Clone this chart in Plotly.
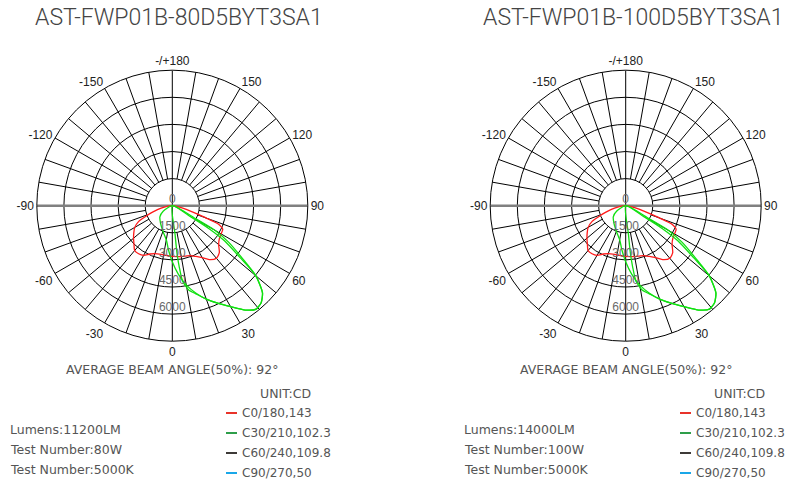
import plotly.graph_objects as go

# ---------------- data ----------------
TITLES = ["AST-FWP01B-80D5BYT3SA1", "AST-FWP01B-100D5BYT3SA1"]
LUMENS = ["Lumens:11200LM", "Lumens:14000LM"]
POWER = ["Test Number:80W", "Test Number:100W"]
CCT = ["Test Number:5000K", "Test Number:5000K"]
BEAM_TEXT = "AVERAGE BEAM ANGLE(50%): 92°"
UNIT_TEXT = "UNIT:CD"
LEGEND_LABELS = ["C0/180,143", "C30/210,102.3", "C60/240,109.8", "C90/270,50"]
LEGEND_COLORS = ["#e8332a", "#2e9e4a", "#3d3a38", "#1aa7e8"]

ANG_TICKS = [0, 30, 60, 90, 120, 150, 180, 210, 240, 270, 300, 330]
ANG_LABELS = ["0", "30", "60", "90", "120", "150", "-/+180", "-150", "-120", "-90", "-60", "-30"]
RAD_TICKS = [0, 1500, 3000, 4500, 6000]
RAD_LABELS = ["0", "1500", "3000", "4500", "6000"]
R_MAX = 7500

# C0/180 plane (red)
red_theta = [-90, -85, -80, -75, -72, -68, -65, -60, -55, -50, -45, -40, -35, -30, -25, -20,
             -15, -10, -5, 0, 5, 10, 15, 20, 25, 30, 35, 40, 45, 50, 55, 60, 65, 68, 70, 72,
             75, 80, 85, 90]
red_r = [0, 150, 450, 850, 1150, 1600, 2050, 2400, 2600, 2800, 3000, 3240, 3250, 3170, 2950,
         2820, 2770, 2760, 2780, 2810, 2830, 2860, 2890, 2940, 3100, 3320, 3650, 3800, 3680,
         3350, 3180, 3120, 3080, 2800, 2000, 1300, 800, 350, 120, 0]

# C30 plane (green, outer)
green_a_theta = [-62, -59, -48, -33, -19, -9.5, -5, 0, 5, 10, 15, 20, 25, 30, 35, 39,
                 42.5, 46, 50, 53, 57, 60, 61, 61.5]
green_a_r = [0, 590, 925, 1185, 1540, 1950, 2450, 3100, 3800, 4450, 5000, 5500, 5950, 6450,
             7050, 7370, 7280, 6940, 6040, 4870, 3730, 2700, 1400, 0]

# C210 plane (green, inner)
green_b_theta = [5.5, 5.5, 5.6, 6.5, 7.7, 11, 15, 20, 25, 30, 35, 39, 42.5, 46, 50, 52.5,
                 56, 58, 59, 59.5]
green_b_r = [0, 1550, 2600, 3430, 4200, 4750, 5050, 5500, 5950, 6450, 7050, 7370, 7280,
             6940, 6040, 4750, 3500, 2400, 1200, 0]

# ---------------- figure ----------------
W, H = 793, 484
CENTERS_X = [172.3, 625.7]
CENTER_Y = 205.7
RADIUS = 135.5
OFFSET = 454

fig = go.Figure()

def px(x):
    return x / W

def py(y):
    return 1 - y / H

spoke_angles = [a for a in range(0, 360, 10) if a not in (0, 90, 180, 270)]

for i, pname in enumerate(["polar", "polar2"]):
    sp = pname
    sr, st = [], []
    for a in spoke_angles:
        sr += [RAD_TICKS[1], R_MAX, None]
        st += [a, a, None]
    fig.add_trace(go.Scatterpolar(r=sr, theta=st, mode="lines", subplot=sp,
                                  line=dict(color="#000000", width=1), hoverinfo="skip",
                                  showlegend=False))
    fig.add_trace(go.Scatterpolar(r=[R_MAX, 0, R_MAX], theta=[0, 0, 180], mode="lines",
                                  subplot=sp, line=dict(color="#000000", width=1),
                                  hoverinfo="skip", showlegend=False))
    fig.add_trace(go.Scatterpolar(r=[R_MAX, 0, R_MAX], theta=[90, 90, 270], mode="lines",
                                  subplot=sp, line=dict(color="#808080", width=2.5),
                                  hoverinfo="skip", showlegend=False))
    fig.add_trace(go.Scatterpolar(r=red_r, theta=red_theta, mode="lines", subplot=sp,
                                  line=dict(color="#ff1a1a", width=1.3, shape="spline",
                                            smoothing=0.6),
                                  showlegend=False))
    fig.add_trace(go.Scatterpolar(r=green_a_r, theta=green_a_theta, mode="lines", subplot=sp,
                                  line=dict(color="#11e011", width=1.3, shape="spline",
                                            smoothing=0.6),
                                  showlegend=False))
    fig.add_trace(go.Scatterpolar(r=green_b_r, theta=green_b_theta, mode="lines", subplot=sp,
                                  line=dict(color="#11e011", width=1.3, shape="spline",
                                            smoothing=0.6),
                                  showlegend=False))
    fig.add_trace(go.Scatterpolar(r=RAD_TICKS, theta=[0] * len(RAD_TICKS), mode="text",
                                  text=RAD_LABELS, textposition="top center", subplot=sp,
                                  textfont=dict(family="Liberation Sans, Arial", size=12,
                                                color="#6a6a6a"),
                                  cliponaxis=False, hoverinfo="skip", showlegend=False))

    cx = CENTERS_X[i]
    dom_x = [px(cx - RADIUS), px(cx + RADIUS)]
    dom_y = [1 - (CENTER_Y + RADIUS) / H, 1 - (CENTER_Y - RADIUS) / H]
    fig.update_layout(**{pname: dict(
        domain=dict(x=dom_x, y=dom_y),
        bgcolor="white",
        radialaxis=dict(range=[0, R_MAX], tickvals=RAD_TICKS[1:], showticklabels=False,
                        showline=False, ticks="", gridcolor="#000000", gridwidth=1),
        angularaxis=dict(rotation=-90, direction="counterclockwise", tickmode="array",
                         tickvals=ANG_TICKS, ticktext=ANG_LABELS, ticks="",
                         showgrid=False, showline=True, linecolor="#000000", linewidth=1,
                         tickfont=dict(family="Liberation Sans, Arial", size=12,
                                       color="#222222")),
    )})

    dx = OFFSET * i
    txt_font = dict(family="DejaVu Sans", size=12.5, color="#555555")
    fig.add_annotation(x=px(179 + dx), y=py(18), xref="paper", yref="paper",
                       text=TITLES[i], showarrow=False, xanchor="center", yanchor="middle",
                       font=dict(family="Roboto, Liberation Sans", size=23, weight=300,
                                 color="#444444"))
    fig.add_annotation(x=px(172 + dx), y=py(369), xref="paper", yref="paper",
                       text=BEAM_TEXT, showarrow=False, xanchor="center", yanchor="middle",
                       font=txt_font)
    fig.add_annotation(x=px(285 + dx), y=py(393), xref="paper", yref="paper",
                       text=UNIT_TEXT, showarrow=False, xanchor="center", yanchor="middle",
                       font=txt_font)
    for k, line in enumerate([LUMENS[i], POWER[i], CCT[i]]):
        fig.add_annotation(x=px(8 + dx), y=py(429 + 20 * k), xref="paper", yref="paper",
                           text=line, showarrow=False, xanchor="left", yanchor="middle",
                           font=txt_font)
    for k, (lab, col) in enumerate(zip(LEGEND_LABELS, LEGEND_COLORS)):
        yy = py(413 + 20 * k)
        fig.add_shape(type="line", xref="paper", yref="paper",
                      x0=px(226 + dx), x1=px(237 + dx), y0=yy, y1=yy,
                      line=dict(color=col, width=2))
        fig.add_annotation(x=px(240 + dx), y=yy, xref="paper", yref="paper",
                           text=lab, showarrow=False, xanchor="left", yanchor="middle",
                           font=dict(family="DejaVu Sans", size=12, color="#555555"))

fig.update_layout(width=W, height=H, margin=dict(l=0, r=0, t=0, b=0),
                  paper_bgcolor="white", plot_bgcolor="white", showlegend=False)

fig.write_html("out.html", config={"displayModeBar": False},
               post_script="document.body.style.margin='0';")
